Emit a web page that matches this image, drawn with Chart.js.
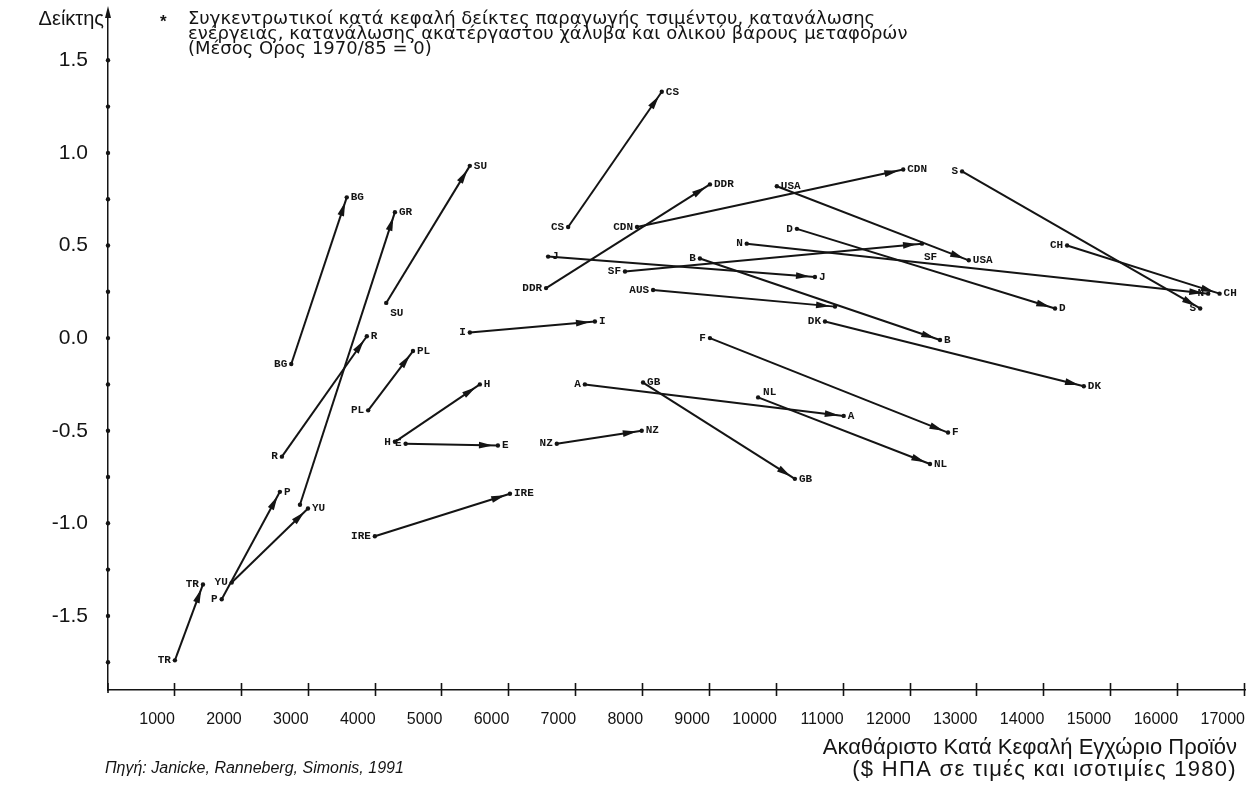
<!DOCTYPE html>
<html>
<head>
<meta charset="utf-8">
<script src="https://cdn.jsdelivr.net/npm/chart.js@4.4.0/dist/chart.umd.min.js"></script>
<style>
    html, body { margin: 0; padding: 0; background: #ffffff; }
    #wrap { width: 1251px; height: 789px; }
</style>
</head>
<body>
<div id="wrap"><canvas id="chart" width="1251" height="789"></canvas></div>
<script>
// Χώρες και τιμές 1970 -> 1985 (ΑΕΠ κατά κεφαλή, συγκεντρωτικός δείκτης)
const countries = ['TR', 'P', 'YU', 'GR', 'BG', 'R', 'SU', 'PL', 'H', 'E', 'IRE', 'I', 'NZ', 'CS', 'DDR',
    'CDN', 'J', 'SF', 'A', 'GB', 'AUS', 'B', 'F', 'N', 'NL', 'USA', 'D', 'DK', 'S', 'CH'];
const gdpStart = [1000, 1700, 1850, 2870, 2740, 2600, 4160, 3890, 4290, 4450, 3990, 5410, 6710, 6880, 6550,
    7910, 6580, 7730, 7130, 8000, 8150, 8850, 9000, 9550, 9720, 10000, 10300, 10720, 12770, 14340];
const indexStart = [-1.74, -1.41, -1.32, -0.90, -0.14, -0.64, 0.19, -0.39, -0.56, -0.57, -1.07, 0.03, -0.57, 0.60, 0.27,
    0.60, 0.44, 0.36, -0.25, -0.24, 0.26, 0.43, 0.00, 0.51, -0.32, 0.82, 0.59, 0.09, 0.90, 0.50];
const gdpEnd = [1420, 2570, 2990, 4290, 3570, 3870, 5410, 4560, 5560, 5830, 6010, 7280, 7980, 8280, 9000,
    11890, 10570, 12170, 11000, 10270, 10870, 12440, 12560, 16450, 12290, 12870, 14160, 14590, 16330, 16620];
const indexEnd = [-1.33, -0.83, -0.92, 0.68, 0.76, 0.01, 0.93, -0.07, -0.25, -0.58, -0.84, 0.09, -0.50, 1.33, 0.83,
    0.91, 0.33, 0.51, -0.42, -0.76, 0.17, -0.01, -0.51, 0.24, -0.68, 0.42, 0.16, -0.26, 0.16, 0.24];

const xTickValues = [1000, 2000, 3000, 4000, 5000, 6000, 7000, 8000, 9000, 10000, 11000, 12000, 13000, 14000, 15000, 16000, 17000];
const yTickValues = [-1.75, -1.5, -1.25, -1.0, -0.75, -0.5, -0.25, 0, 0.25, 0.5, 0.75, 1.0, 1.25, 1.5];

const headerLines = [
    'Συγκεντρωτικοί κατά κεφαλή δείκτες παραγωγής τσιμέντου, κατανάλωσης',
    'ενέργειας, κατανάλωσης ακατέργαστου χάλυβα και ολικού βάρους μεταφορών',
    '(Μέσος Ορος 1970/85 = 0)'
];
const yTitle = 'Δείκτης';
const xTitleLines = ['Ακαθάριστο Κατά Κεφαλή Εγχώριο Προϊόν', '($ ΗΠΑ σε τιμές και ισοτιμίες 1980)'];
const sourceText = 'Πηγή: Janicke, Ranneberg, Simonis, 1991';

// πού μπαίνει η ετικέτα σε κάθε άκρο (προεπιλογή: αρχή αριστερά, τέλος δεξιά)
const startSide = { GR: 'none', SU: 'belowRight', GB: 'right', J: 'right', USA: 'right', NL: 'aboveRight' };
const endSide = { TR: 'left', N: 'left', S: 'left', SF: 'below', AUS: 'none' };

const INK = '#141414';
const SANS = "'Liberation Sans', Arial, sans-serif";

const datasets = countries.map((c, i) => ({
    label: c,
    data: [{ x: gdpStart[i], y: indexStart[i] }, { x: gdpEnd[i], y: indexEnd[i] }],
    showLine: true,
    borderColor: INK,
    borderWidth: 2,
    pointRadius: 2.2,
    pointBackgroundColor: INK,
    pointBorderWidth: 0
}));

// χωρίς επιπλέον περιθώρια από τις ετικέτες των άκρων
function noEdgePadding(axis) {
    axis.paddingTop = 0;
    axis.paddingBottom = 0;
    axis.paddingLeft = 0;
    axis.paddingRight = 0;
}

// βέλη, ετικέτες χωρών και κείμενα γύρω από το γράφημα
const decorPlugin = {
    id: 'decor',
    afterDatasetsDraw(chart) {
        const { ctx, scales: { x, y } } = chart;
        ctx.save();
        ctx.fillStyle = INK;
        countries.forEach((c, i) => {
            const x0 = x.getPixelForValue(gdpStart[i]), y0 = y.getPixelForValue(indexStart[i]);
            const x1 = x.getPixelForValue(gdpEnd[i]), y1 = y.getPixelForValue(indexEnd[i]);
            const a = Math.atan2(y1 - y0, x1 - x0);
            const tx = x1 - Math.cos(a) * 5, ty = y1 - Math.sin(a) * 5;
            const len = 14, half = 3.4;
            const bx = tx - Math.cos(a) * len, by = ty - Math.sin(a) * len;
            ctx.beginPath();
            ctx.moveTo(tx, ty);
            ctx.lineTo(bx + Math.sin(a) * half, by - Math.cos(a) * half);
            ctx.lineTo(bx - Math.sin(a) * half, by + Math.cos(a) * half);
            ctx.closePath();
            ctx.fill();

            ctx.font = "bold 11px 'Liberation Mono', 'DejaVu Sans Mono', monospace";
            drawTag(ctx, c, x0, y0, startSide[c] || 'left');
            drawTag(ctx, c, x1, y1, endSide[c] || 'right');
        });
        ctx.restore();
    },
    afterDraw(chart) {
        const { ctx, scales: { x, y } } = chart;
        const axisX = x.left, axisY = y.bottom;
        ctx.save();
        ctx.fillStyle = INK;
        ctx.strokeStyle = INK;

        // τελείες στον κάθετο άξονα
        yTickValues.forEach(v => {
            ctx.beginPath();
            ctx.arc(axisX, y.getPixelForValue(v), 2.2, 0, Math.PI * 2);
            ctx.fill();
        });
        // βέλος στην κορυφή του άξονα
        ctx.lineWidth = 1.5;
        ctx.beginPath();
        ctx.moveTo(axisX, y.top);
        ctx.lineTo(axisX, 10);
        ctx.stroke();
        ctx.beginPath();
        ctx.moveTo(axisX, 6);
        ctx.lineTo(axisX - 3, 18);
        ctx.lineTo(axisX + 3, 18);
        ctx.closePath();
        ctx.fill();

        // γραμμούλες στον οριζόντιο άξονα
        ctx.lineWidth = 1.6;
        xTickValues.forEach(v => {
            const px = Math.round(x.getPixelForValue(v)) - 0.5;
            ctx.beginPath();
            ctx.moveTo(px, axisY - 7);
            ctx.lineTo(px, axisY + 6);
            ctx.stroke();
        });
        ctx.beginPath();
        ctx.moveTo(axisX, axisY - 7);
        ctx.lineTo(axisX, axisY + 3);
        ctx.stroke();

        // τίτλος άξονα y
        ctx.font = '20px ' + SANS;
        ctx.textAlign = 'right';
        ctx.textBaseline = 'alphabetic';
        ctx.fillText(yTitle, 104, 25);

        // επεξήγηση πάνω
        ctx.textAlign = 'left';
        ctx.font = 'bold 17px ' + SANS;
        ctx.fillText('*', 160, 27);
        ctx.font = "18px 'DejaVu Sans', sans-serif";
        headerLines.forEach((t, k) => ctx.fillText(t, 188, 24 + k * 15));

        // τίτλος άξονα x
        ctx.textAlign = 'right';
        ctx.font = '22px ' + SANS;
        ctx.fillText(xTitleLines[0], 1237, 754);
        ctx.font = '22px ' + SANS;
        ctx.letterSpacing = '1.3px';
        ctx.fillText(xTitleLines[1], 1237, 776);
        ctx.letterSpacing = '0px';

        // πηγή
        ctx.textAlign = 'left';
        ctx.font = 'italic 16px ' + SANS;
        ctx.fillText(sourceText, 105, 773);
        ctx.restore();
    }
};

function drawTag(ctx, text, px, py, side) {
    if (side === 'none') return;
    ctx.textBaseline = 'middle';
    if (side === 'left') {
        ctx.textAlign = 'right';
        ctx.fillText(text, px - 4, py);
    } else if (side === 'right') {
        ctx.textAlign = 'left';
        ctx.fillText(text, px + 4, py);
    } else if (side === 'belowRight') {
        ctx.textAlign = 'left';
        ctx.fillText(text, px + 4, py + 10);
    } else if (side === 'aboveRight') {
        ctx.textAlign = 'left';
        ctx.fillText(text, px + 5, py - 5);
    } else if (side === 'below') {
        ctx.textAlign = 'left';
        ctx.fillText(text, px + 2, py + 14);
    }
}

new Chart(document.getElementById('chart'), {
    type: 'scatter',
    data: { datasets },
    options: {
        responsive: false,
        animation: false,
        layout: { padding: { top: 14, right: 6, left: 0, bottom: 0 } },
        plugins: {
            legend: { display: false },
            tooltip: { enabled: false }
        },
        scales: {
            x: {
                type: 'linear',
                min: 0,
                max: 17000,
                afterBuildTicks: axis => { axis.ticks = xTickValues.map(v => ({ value: v })); },
                afterFit: axis => { axis.height = 99; noEdgePadding(axis); },
                grid: { display: false, drawTicks: false },
                border: { display: true, color: INK, width: 1.5, dash: [5, 3] },
                ticks: {
                    align: 'end',
                    padding: 20,
                    color: INK,
                    maxRotation: 0,
                    autoSkip: false,
                    font: { family: "'Liberation Sans Narrow', 'Liberation Sans', Arial, sans-serif", size: 16 },
                    callback: v => String(v)
                }
            },
            y: {
                type: 'linear',
                min: -1.9,
                max: 1.75,
                afterBuildTicks: axis => { axis.ticks = yTickValues.map(v => ({ value: v })); },
                afterFit: axis => { axis.width = 108; noEdgePadding(axis); },
                grid: { display: false, drawTicks: false },
                border: { display: true, color: INK, width: 1.5, dash: [30, 4] },
                ticks: {
                    padding: 20,
                    color: INK,
                    autoSkip: false,
                    font: { family: SANS, size: 21 },
                    callback: v => (Math.abs(v * 2 - Math.round(v * 2)) < 1e-9 ? v.toFixed(1) : '')
                }
            }
        }
    },
    plugins: [decorPlugin]
});
</script>
</body>
</html>
